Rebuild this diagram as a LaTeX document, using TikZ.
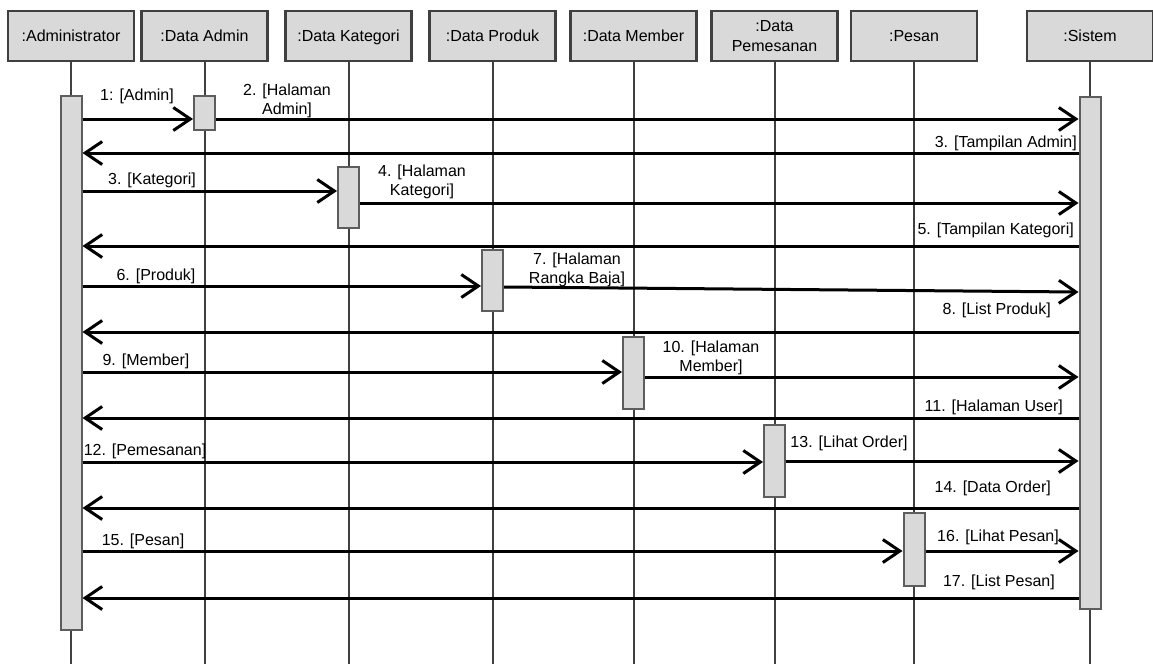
\documentclass[tikz,border=0pt]{standalone}
\usepackage{fontspec}
\setmainfont{Liberation Sans}
\usetikzlibrary{arrows.meta}
\definecolor{boxfill}{HTML}{D9D9D9}
\definecolor{edge}{HTML}{404040}
\begin{document}
\begin{tikzpicture}[x=1pt,y=-1pt,
    head/.style={draw=edge,fill=boxfill,line width=2.2pt,minimum width=126pt,minimum height=50pt,
        inner sep=0pt,align=center,font=\fontsize{16}{20}\selectfont},
    onerow/.style={head,text height=11.5pt,text depth=0pt},
    life/.style={draw=edge,line width=2pt},
    bar/.style={draw=edge!85,fill=boxfill,line width=2pt,minimum width=21pt,inner sep=0pt},
    msg/.style={line width=3pt,-{Straight Barb[length=17pt,width=23pt]}},
    lbl/.style={inner sep=0pt,align=center,font=\fontsize{16}{18.5}\selectfont}]
    \useasboundingbox (0,0) rectangle (1153,664);

    \node[onerow] (hAdm) at (71,36) {:Administrator};
    \node[onerow] (hDAdm) at (204.5,36) {:Data Admin};
    \node[onerow] (hKat) at (348.5,36) {:Data Kategori};
    \node[onerow] (hProd) at (492.5,36) {:Data Produk};
    \node[onerow] (hMem) at (633.5,36) {:Data Member};
    \node[head] (hPms) at (774.5,36) {:Data\\Pemesanan};
    \node[onerow] (hPsn) at (914,36) {:Pesan};
    \node[onerow] (hSis) at (1090,36) {:Sistem};

    \draw[life] (hAdm.south) -- (hAdm.south |- 0,664);
    \draw[life] (hDAdm.south) -- (hDAdm.south |- 0,664);
    \draw[life] (hKat.south) -- (hKat.south |- 0,664);
    \draw[life] (hProd.south) -- (hProd.south |- 0,664);
    \draw[life] (hMem.south) -- (hMem.south |- 0,664);
    \draw[life] (hPms.south) -- (hPms.south |- 0,664);
    \draw[life] (hPsn.south) -- (hPsn.south |- 0,664);
    \draw[life] (hSis.south) -- (hSis.south |- 0,664);

    \node[bar,minimum height=534pt] (aAdm) at (hAdm.south |- 0,363) {};
    \node[bar,minimum height=34pt] (aDAdm) at (hDAdm.south |- 0,113) {};
    \node[bar,minimum height=61pt] (aKat) at (hKat.south |- 0,197.5) {};
    \node[bar,minimum height=61pt] (aProd) at (hProd.south |- 0,280.5) {};
    \node[bar,minimum height=72pt] (aMem) at (hMem.south |- 0,373) {};
    \node[bar,minimum height=72pt] (aPms) at (hPms.south |- 0,461) {};
    \node[bar,minimum height=73pt] (aPsn) at (hPsn.south |- 0,549.5) {};
    \node[bar,minimum height=512pt] (aSis) at (hSis.south |- 0,353) {};

    \draw[msg] (aAdm.east |- 0,119) -- (aDAdm.west |- 0,119);
    \node[lbl] (m1) at (137,96) {1: [Admin]};
    \draw[msg] (aDAdm.east |- 0,119) -- (aSis.west |- 0,119);
    \node[lbl] (m2) at (287,101) {2. [Halaman\\Admin]};
    \draw[msg] (aSis.west |- 0,153) -- (aAdm.east |- 0,153);
    \node[lbl,anchor=east] (m3) at (1077,143) {3. [Tampilan Admin]};

    \draw[msg] (aAdm.east |- 0,191) -- (aKat.west |- 0,191);
    \node[lbl] (m3b) at (152,180) {3. [Kategori]};
    \draw[msg] (aKat.east |- 0,203) -- (aSis.west |- 0,203);
    \node[lbl] (m4) at (422,182) {4. [Halaman\\Kategori]};
    \draw[msg] (aSis.west |- 0,246) -- (aAdm.east |- 0,246);
    \node[lbl,anchor=east] (m5) at (1074,230) {5. [Tampilan Kategori]};

    \draw[msg] (aAdm.east |- 0,286) -- (aProd.west |- 0,286);
    \node[lbl] (m6) at (156,276) {6. [Produk]};
    \draw[msg] (aProd.east |- 0,287) -- (aSis.west |- 0,292);
    \node[lbl] (m7) at (577,270) {7. [Halaman\\Rangka Baja]};
    \draw[msg] (aSis.west |- 0,332) -- (aAdm.east |- 0,332);
    \node[lbl,anchor=east] (m8) at (1051,310) {8. [List Produk]};

    \draw[msg] (aAdm.east |- 0,372) -- (aMem.west |- 0,372);
    \node[lbl] (m9) at (146,361) {9. [Member]};
    \draw[msg] (aMem.east |- 0,377) -- (aSis.west |- 0,377);
    \node[lbl] (m10) at (711,358) {10. [Halaman\\Member]};
    \draw[msg] (aSis.west |- 0,418) -- (aAdm.east |- 0,418);
    \node[lbl,anchor=east] (m11) at (1063,407) {11. [Halaman User]};

    \draw[msg] (aAdm.east |- 0,462) -- (aPms.west |- 0,462);
    \node[lbl] (m12) at (145,451) {12. [Pemesanan]};
    \draw[msg] (aPms.east |- 0,461) -- (aSis.west |- 0,461);
    \node[lbl] (m13) at (849,443) {13. [Lihat Order]};
    \draw[msg] (aSis.west |- 0,508) -- (aAdm.east |- 0,508);
    \node[lbl,anchor=east] (m14) at (1051,488) {14. [Data Order]};

    \draw[msg] (aAdm.east |- 0,551) -- (aPsn.west |- 0,551);
    \node[lbl] (m15) at (143,541) {15. [Pesan]};
    \draw[msg] (aPsn.east |- 0,551) -- (aSis.west |- 0,551);
    \node[lbl] (m16) at (998,537) {16. [Lihat Pesan]};
    \draw[msg] (aSis.west |- 0,598) -- (aAdm.east |- 0,598);
    \node[lbl,anchor=east] (m17) at (1055,582) {17. [List Pesan]};
\end{tikzpicture}
\end{document}
